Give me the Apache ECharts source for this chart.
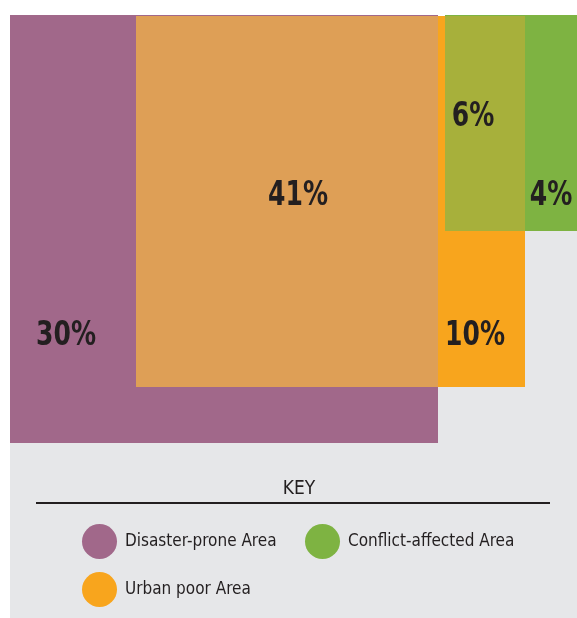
<!DOCTYPE html>
<html>
<head>
<meta charset="utf-8">
<script src="https://cdn.jsdelivr.net/npm/echarts@6/dist/echarts.min.js"></script>
<style>
html, body { margin: 0; padding: 0; background: #fff; }
#chart { width: 577px; height: 618px; }
</style>
</head>
<body>
<div id="chart"></div>
<script>
var groups = ['Disaster-prone Area', 'Urban poor Area', 'Conflict-affected Area'];
// extent of each area in diagram units: [left, top, right, bottom]
var groupBoxes = [
	[0, 0, 428, 428],
	[126, 1, 515, 372],
	[435, 0, 567, 216]
];
// share of each region: disaster only, disaster+urban, urban only, urban+conflict, conflict only
var shares = [30, 41, 10, 6, 4];

var groupColors = ['#A1688A', '#F8A51D', '#7EB342'];
var overlapColors = ['#DE9F56', '#A7B03B'];
var shareAnchors = [[56, 321], [288, 181], [465, 321], [463, 102], [541, 181]];
var ink = '#231F20';
var family = '"DejaVu Sans", sans-serif';

function intersect(a, b) {
	return [Math.max(a[0], b[0]), Math.max(a[1], b[1]), Math.min(a[2], b[2]), Math.min(a[3], b[3])];
}
var overlaps = [
	intersect(groupBoxes[0], groupBoxes[1]),
	intersect(groupBoxes[1], groupBoxes[2])
];

function renderBox(params, api) {
	var p0 = api.coord([api.value(0), api.value(1)]);
	var p1 = api.coord([api.value(2), api.value(3)]);
	return {
		type: 'rect',
		shape: { x: p0[0], y: p0[1], width: p1[0] - p0[0], height: p1[1] - p0[1] },
		style: { fill: api.visual('color') }
	};
}

var series = [];
for (var i = 0; i < groups.length; i++) {
	series.push({
		name: groups[i],
		type: 'custom',
		renderItem: renderBox,
		itemStyle: { color: groupColors[i] },
		encode: { x: [0, 2], y: [1, 3] },
		data: [groupBoxes[i]],
		z: 5
	});
}
series.push({
	name: 'overlap',
	type: 'custom',
	renderItem: function (params, api) {
		var el = renderBox(params, api);
		el.style.fill = overlapColors[params.dataIndex];
		return el;
	},
	encode: { x: [0, 2], y: [1, 3] },
	data: overlaps,
	z: 6
});
series.push({
	name: 'shares',
	type: 'custom',
	renderItem: function (params, api) {
		var p = api.coord([api.value(0), api.value(1)]);
		return {
			type: 'text',
			x: p[0],
			y: p[1],
			scaleX: 0.76,
			style: {
				text: api.value(2) + '%',
				align: 'center',
				verticalAlign: 'middle',
				fill: ink,
				font: 'bold 33px ' + family
			}
		};
	},
	encode: { x: 0, y: 1 },
	data: shares.map(function (v, k) { return [shareAnchors[k][0], shareAnchors[k][1], v]; }),
	z: 7
});

var legendText = { color: ink, fontFamily: family, fontWeight: 'condensed', fontSize: 17, padding: [0, 0, 0, 3] };

var chart = echarts.init(document.getElementById('chart'));
chart.setOption({
	animation: false,
	grid: { left: 10, top: 15, right: 0, bottom: 0 },
	xAxis: { type: 'value', min: 0, max: 567, show: false },
	yAxis: { type: 'value', min: 0, max: 603, inverse: true, show: false },
	title: {
		text: 'KEY',
		left: 294,
		top: 475,
		textAlign: 'center',
		textStyle: { color: ink, fontFamily: family, fontWeight: 'condensed', fontSize: 19 }
	},
	legend: [{
		left: 82,
		top: 524,
		padding: 0,
		orient: 'vertical',
		itemGap: 13,
		itemWidth: 35,
		itemHeight: 35,
		icon: 'circle',
		data: ['Disaster-prone Area', 'Urban poor Area'],
		textStyle: legendText
	}, {
		left: 305,
		top: 524,
		padding: 0,
		itemWidth: 35,
		itemHeight: 35,
		icon: 'circle',
		data: ['Conflict-affected Area'],
		textStyle: legendText
	}],
	graphic: [{
		type: 'rect',
		left: 10,
		top: 16,
		z: -1,
		shape: { width: 567, height: 602 },
		style: { fill: '#E6E7E9' }
	}, {
		type: 'line',
		z: 1,
		shape: { x1: 36, y1: 503, x2: 550, y2: 503 },
		style: { stroke: ink, lineWidth: 2 }
	}],
	series: series
});
</script>
</body>
</html>
